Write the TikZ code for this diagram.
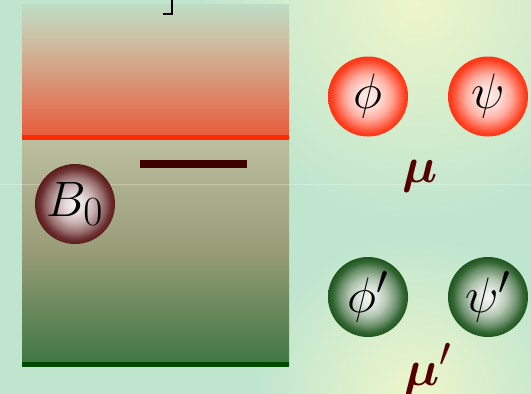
\documentclass[tikz,border=0pt]{standalone}
\usepackage{amsmath}
\definecolor{bgc}{HTML}{BFE5CF}
\definecolor{glowc}{HTML}{EEF6CA}
\definecolor{upA}{HTML}{BEDDC5}
\definecolor{upB}{HTML}{CDBFA2}
\definecolor{upC}{HTML}{E85A3A}
\definecolor{loA}{HTML}{BDC0A0}
\definecolor{loB}{HTML}{989C77}
\definecolor{loC}{HTML}{3F7742}
\definecolor{redline}{HTML}{FF2A00}
\definecolor{greenline}{HTML}{004A00}
\definecolor{barc}{HTML}{3F0000}
\definecolor{muc}{HTML}{550000}
\definecolor{rc}{HTML}{FF3514}
\definecolor{gc}{HTML}{1E561E}
\definecolor{mc}{HTML}{5C1A1A}
\pgfdeclareradialshading{redshade}{\pgfpoint{0bp}{0bp}}{color(0bp)=(white!92!rc); color(8bp)=(white!80!rc); color(14bp)=(white!60!rc); color(19bp)=(white!30!rc); color(23bp)=(white!5!rc); color(25bp)=(rc); color(50bp)=(rc)}
\pgfdeclareradialshading{greenshade}{\pgfpoint{0bp}{0bp}}{color(0bp)=(white!95!gc); color(6bp)=(white!85!gc); color(12bp)=(white!65!gc); color(18bp)=(white!35!gc); color(22bp)=(white!10!gc); color(25bp)=(gc); color(50bp)=(gc)}
\pgfdeclareradialshading{maroonshade}{\pgfpoint{0bp}{0bp}}{color(0bp)=(white!95!mc); color(6bp)=(white!85!mc); color(12bp)=(white!65!mc); color(18bp)=(white!35!mc); color(22bp)=(white!10!mc); color(25bp)=(mc); color(50bp)=(mc)}
\newcommand{\bigmath}[1]{\scalebox{2}{$#1$}}
\newcommand{\mumath}[1]{\scalebox{2}{$#1$}}
\tikzset{
  ballnode/.style={circle, minimum size=80pt, inner sep=0pt, font=\Huge},
  redball/.style={ballnode, shading=redshade},
  greenball/.style={ballnode, shading=greenshade},
  maroonball/.style={ballnode, shading=maroonshade},
  mulabel/.style={font=\Huge, text=muc, inner sep=0pt, anchor=base west}
}
\begin{document}
\begin{tikzpicture}[x=1pt, y=-1pt]
\useasboundingbox (0,0) rectangle (531,394);
\begin{scope}
  \clip (0,0) rectangle (531,394);
  \fill[bgc] (0,0) rectangle (531,394);
  \shade[inner color=glowc, outer color=bgc] (417,3) circle (220);
  \shade[inner color=glowc, outer color=bgc] (413,394) circle (160);
\end{scope}
% upper (red) part of the box
\shade[top color=upA, bottom color=upB] (22,4) rectangle (289,40.5);
\shade[top color=upB, bottom color=upC] (22,40) rectangle (289,137.5);
% lower (green) part of the box
\shade[top color=loA, bottom color=loB] (22,137.5) rectangle (289,250.5);
\shade[top color=loB, bottom color=loC] (22,250) rectangle (289,364);
\draw[redline, line width=5pt] (22,137.5) -- (289,137.5);
\draw[greenline, line width=5pt] (22,364.5) -- (289,364.5);
\draw[barc, line width=8pt] (140,164) -- (247,164);
% bracket fragment at top
\draw[black, line width=2pt] (163,14) -- (172,14) -- (172,-2);
% faint horizontal line
\draw[white, opacity=0.25, line width=1.5pt] (0,184.5) -- (531,184.5);
% balls
\node[maroonball] (b0) at (75,204) {\bigmath{B_0}};
\node[redball] (phi) at (368,96.5) {\bigmath{\phi}};
\node[redball] (psi) at (488,96.5) {\bigmath{\psi}};
\node[greenball] (phip) at (368,297) {\bigmath{\phi'}};
\node[greenball] (psip) at (488,297) {\bigmath{\psi'}};
\node[mulabel] (mu) at (402,182) {\mumath{\boldsymbol{\mu}}};
\node[mulabel] (mup) at (404,385) {\mumath{\boldsymbol{\mu}'}};
\end{tikzpicture}
\end{document}
